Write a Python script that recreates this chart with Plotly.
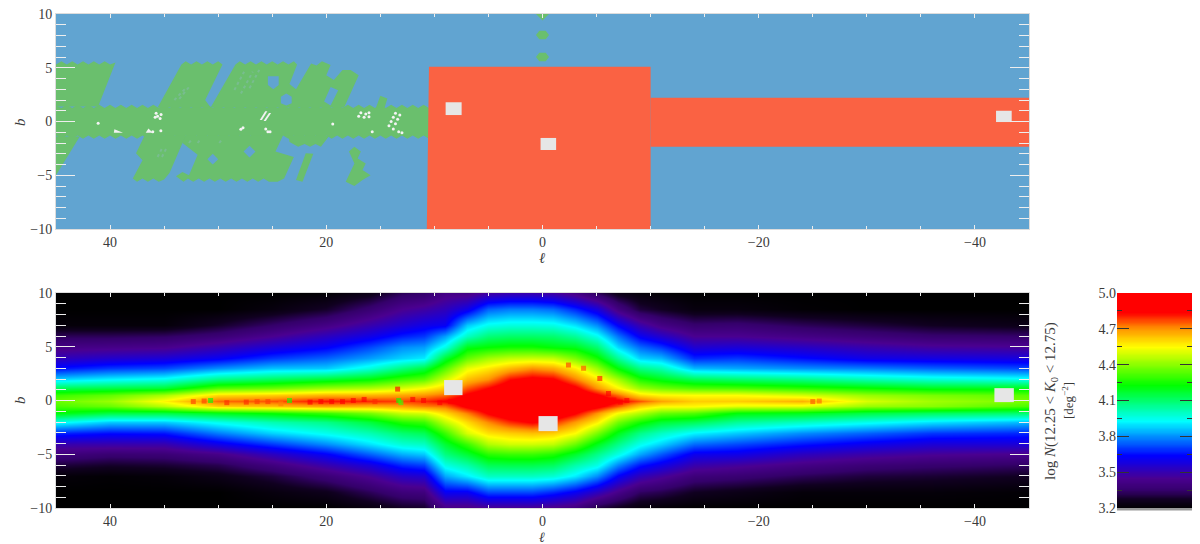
import numpy as np
import plotly.graph_objects as go

W, H = 1192, 536   # page body has an 8 px margin; figure fills the remaining window


def X(px):
    return (px - 8) / W


def Y(px):
    return 1 - (px - 8) / H


BLUE, GREEN, RED, GREY = "#61a4d1", "#6abf6d", "#fa6243", "#e6e6e6"
FONT = "Liberation Serif"
TXT = "#3a3a3a"

# ---------- survey coverage outlines (l, b in degrees) ----------
band_l = [45,44.5,44,43.5,43,42.5,42,41.5,41,40.5,40,39.5,39,38.5,38,37.5,37,36.5,36,35.5,35,34.5,34,33.5,33,32.5,32,31.5,31,30.5,30,29.5,29,28.5,28,27.5,27,26.5,26,25.5,25,24.5,24,23.5,23,22.5,22,21.5,21,20.5,20,19.5,19,18.5,18,17.5,17,16.5,16,15.5,15,14.5,14,13.5,13,12.5,12,11.5,11,10.5]
band_top = [1.5,1.25,1.55,1.25,1.55,1.25,1.55,1.25,1.55,1.25,1.55,1.25,1.55,1.25,1.55,1.25,1.55,1.25,1.55,1.25,1.55,1.25,1.55,1.25,1.55,1.25,1.55,1.25,1.55,1.25,1.55,1.25,1.55,1.25,1.55,1.25,1.55,1.25,1.55,1.25,1.55,1.25,1.55,1.25,1.55,1.25,1.55,1.25,1.55,1.25,1.55,1.25,1.55,1.25,1.55,1.25,1.55,1.25,1.55,1.25,1.55,1.25,1.55,1.25,1.55,1.25,1.55,1.25,1.55,1.25]
band_bot = [-1.3,-1.6,-1.3,-1.6,-1.3,-1.6,-1.3,-1.6,-1.3,-1.6,-1.3,-1.6,-1.3,-1.6,-1.3,-1.6,-1.3,-1.6,-1.3,-1.6,-1.3,-1.6,-1.3,-1.6,-1.3,-1.6,-1.3,-1.6,-1.3,-1.6,-1.3,-1.6,-1.3,-1.6,-1.3,-1.6,-1.3,-1.6,-1.3,-1.6,-1.3,-1.6,-1.3,-1.6,-1.3,-1.6,-1.3,-1.6,-1.3,-1.6,-1.3,-1.6,-1.3,-1.6,-1.3,-1.6,-1.3,-1.6,-1.3,-1.6,-1.3,-1.6,-1.3,-1.6,-1.3,-1.6,-1.3,-1.6,-1.3,-1.6]

green_polys = [
    [(45,5.3),(44.5,5.6),(44,5.3),(43.5,5.6),(43,5.3),(42.5,5.6),(42,5.3),(41.5,5.6),(41,5.3),(40.5,5.6),(40,5.3),(39.5,5.5),(41.1,1.4),(45,1.4)],
    [(45,-1.4),(42.8,-1.4),(45,-5.0)],
    [(35.6,1.3),(33.4,5.3),(33,5.6),(32.5,5.3),(32,5.6),(31.5,5.3),(31,5.6),(30.5,5.3),(30,5.6),(29.6,5.3),(31.2,2.0),(30.7,1.3)],
    [(30.7,1.3),(28.4,5.3),(28,5.6),(27.5,5.3),(27,5.6),(26.5,5.3),(26,5.6),(25.5,5.3),(25,5.6),(24.5,5.3),(24,5.6),(23.5,5.3),(23,5.6),(22.7,5.3),(23.4,3.5),(22.8,3.0),(21.4,5.4),(20.9,5.2),(20.4,5.6),(19.6,5.25),(20,4.3),(19.3,3.85),(18.5,4.8),(17.75,4.8),(17,4.3),(18.35,1.3)],
    [(15.4,1.3),(15,2.4),(14.35,2.15),(14.6,1.3)],
    [(36.8,-1.3),(37.6,-2.96),(37,-3.6),(37.9,-5.3),(37.5,-5.6),(37,-5.3),(36.5,-5.6),(36,-5.3),(35.5,-5.6),(35,-5.4),(34.5,-4.8),(33.3,-2.0),(32.9,-1.3)],
    [(33.3,-2.0),(32.7,-2.5),(31.9,-3.1),(32.7,-5.0),(33.3,-4.7),(33.9,-5.1),(33.2,-5.6),(32.8,-5.3),(32.3,-5.6),(31.8,-5.3),(31.3,-5.6),(30.8,-5.3),(30.3,-5.6),(29.8,-5.3),(29.3,-5.6),(28.8,-5.3),(28.3,-5.6),(27.8,-5.3),(27.3,-5.6),(26.8,-5.3),(26.3,-5.6),(25.8,-5.3),(25.3,-5.6),(24.5,-5.6),(23.9,-5.3),(23,-3.3),(23.9,-3.0),(24.7,-2.8),(24,-1.3),(33,-1.3)],
    [(23.5,-1.3),(23.4,-1.9),(22.6,-2.35),(22,-2.1),(21.5,-2.35),(21,-2.1),(20.5,-2.35),(19.7,-1.3)],
    [(21.9,-2.96),(21.2,-3.0),(22.2,-5.6),(22.8,-5.45)],
    [(17.4,-2.35),(16.8,-2.8),(17.1,-3.45),(16.35,-3.9),(16.65,-4.5),(15.9,-5.0),(16.65,-5.45),(17.4,-6.0),(18.2,-5.6),(17.4,-3.9),(17.9,-2.8)],
    [(0.6,10),(0,10.6),(-0.6,10),(0,9.4)],
    [(0.6,8.05),(0.3,8.45),(-0.3,8.45),(-0.6,8.05),(-0.3,7.65),(0.3,7.65)],
    [(0.6,6),(0.3,6.4),(-0.3,6.4),(-0.6,6),(-0.3,5.6),(0.3,5.6)],
]
blue_holes = [
    [(25.4,4.2),(24.4,4.2),(24.4,3.4),(24.9,3.0),(25.4,3.4)],
    [(24.2,2.3),(23.7,2.6),(23.2,2.3),(23.2,1.7),(23.7,1.5),(24.2,1.7)],
    [(19.6,3.2),(18.9,2.9),(19.6,1.5),(20.2,1.85)],
    [(27.65,-2.8),(27.1,-2.25),(26.55,-2.8),(27.1,-3.35)],
    [(31,-3.5),(30.5,-3.0),(30,-3.5),(30.5,-4.0)],
]
faint_l0 = [28.5,27.9,27.1,34.05,33.6,35.6,35.2,32.7,31.9,29.9]
faint_b0 = [2.93,2.6,3.1,2.0,2.1,-3.3,-3.3,-2.0,-2.0,-2.0]
faint_l1 = [27.6,26.8,26.2,33.0,32.7,35.2,34.8,32.4,31.6,29.6]
faint_b1 = [4.63,4.63,4.8,3.1,3.2,-2.5,-2.5,-1.6,-1.6,-1.6]
red_main = [(10.5,5.1),(-10,5.1),(-10,-10),(10.7,-10)]
red_strip = [(-10,2.2),(-45,2.2),(-45,-2.35),(-10,-2.35)]

white_l = [35.74,35.28,35.83,35.37,35.6,16.8,16.35,16.05,17,16.5,16.05,13.6,13.2,13.8,13.4,14,13.6,14.2,13.8,13.3,13,41.1,19.4,36.05,35.3,27.9,27.7,25.6,25.2,25.4,15.75]
white_b = [0.76,0.66,0.39,0.29,0.5,0.82,0.7,0.82,0.5,0.39,0.45,0.76,0.6,0.39,0.2,0,-0.2,-0.4,-0.7,-0.95,-1.05,-0.17,-0.23,-0.95,-0.85,-0.73,-0.58,-0.7,-0.95,-0.95,-0.95]
white_polys = [
    [(39.6,-0.73),(38.8,-1.04),(39.65,-1.04)],
    [(36.45,-0.64),(36.05,-1.04),(36.7,-1.04)],
    [(25.65,0.95),(25.45,0.95),(25.95,0.15),(26.15,0.15)],
    [(25.3,0.8),(25.1,0.8),(25.6,0.05),(25.8,0.05)],
]
gap_top = [[(8.96,1.79),(7.48,1.79),(7.48,0.6),(8.96,0.6)],
           [(0.18,-1.53),(-1.26,-1.53),(-1.26,-2.65),(0.18,-2.65)],
           [(-41.95,1.0),(-43.4,1.0),(-43.4,-0.05),(-41.95,-0.05)]]
gap_bot = [[(9.1,1.9),(7.4,1.9),(7.4,0.5),(9.1,0.5)],
           [(0.37,-1.45),(-1.4,-1.45),(-1.4,-2.85),(0.37,-2.85)],
           [(-41.8,1.15),(-43.6,1.15),(-43.6,-0.15),(-41.8,-0.15)]]

# ---------- star density map: columns by l, rows by b ----------
map_b = [10,8.5,7,6,5,4,3,2,1.2,0.5,0,-0.5,-1.2,-2,-3,-4,-5,-6,-7,-8.5,-10]
map_l = [45,40,35,30,25,20,16,13,11,9,7,5,3,1,-1,-3,-5,-7,-9,-11,-14,-18,-24,-30,-36,-45]
density_columns = [
 [3.2,3.2,3.22,3.33,3.42,3.52,3.65,3.88,4.13,4.3,4.36,4.32,4.22,3.95,3.68,3.5,3.4,3.3,3.22,3.2,3.2],
 [3.2,3.2,3.22,3.33,3.43,3.55,3.7,3.92,4.15,4.35,4.42,4.36,4.15,3.87,3.65,3.5,3.37,3.28,3.21,3.2,3.2],
 [3.2,3.2,3.22,3.34,3.44,3.57,3.72,3.95,4.17,4.44,4.56,4.46,4.15,3.87,3.66,3.5,3.38,3.29,3.22,3.2,3.2],
 [3.2,3.2,3.28,3.38,3.5,3.62,3.8,4.07,4.33,4.6,4.74,4.62,4.2,3.95,3.78,3.6,3.43,3.32,3.25,3.2,3.2],
 [3.2,3.23,3.35,3.45,3.57,3.7,3.86,4.12,4.36,4.62,4.76,4.64,4.24,4.02,3.88,3.7,3.53,3.4,3.3,3.23,3.2],
 [3.21,3.28,3.42,3.53,3.63,3.75,3.87,4.17,4.42,4.66,4.82,4.68,4.3,4.07,3.95,3.8,3.63,3.5,3.38,3.26,3.2],
 [3.25,3.37,3.5,3.6,3.72,3.82,3.97,4.22,4.45,4.66,4.8,4.66,4.38,4.16,4.02,3.9,3.75,3.58,3.46,3.33,3.23],
 [3.33,3.45,3.56,3.67,3.8,3.88,4.08,4.3,4.5,4.68,4.78,4.68,4.48,4.27,4.1,3.98,3.84,3.68,3.54,3.39,3.27],
 [3.35,3.48,3.6,3.7,3.82,3.91,4.15,4.34,4.55,4.7,4.8,4.72,4.5,4.3,4.13,4.0,3.87,3.71,3.56,3.4,3.28],
 [3.42,3.52,3.62,3.82,3.96,4.17,4.33,4.49,4.62,4.74,4.85,4.74,4.6,4.47,4.3,4.17,4.08,3.96,3.83,3.62,3.42],
 [3.42,3.6,3.87,4.0,4.2,4.35,4.52,4.64,4.76,4.86,4.92,4.87,4.72,4.6,4.5,4.3,4.17,4.03,3.91,3.62,3.42],
 [3.48,3.75,3.95,4.09,4.23,4.43,4.58,4.7,4.84,4.92,4.98,4.94,4.85,4.71,4.59,4.45,4.28,4.13,4.0,3.72,3.45],
 [3.5,3.78,3.97,4.11,4.25,4.47,4.65,4.83,4.93,5.0,5.0,5.0,4.94,4.8,4.62,4.49,4.3,4.14,4.0,3.72,3.45],
 [3.5,3.78,3.97,4.11,4.25,4.48,4.7,4.87,4.97,5.0,5.0,5.0,4.97,4.85,4.64,4.49,4.3,4.14,4.0,3.72,3.45],
 [3.48,3.76,3.96,4.1,4.22,4.47,4.67,4.85,4.97,5.0,5.0,5.0,4.95,4.8,4.62,4.47,4.27,4.12,3.98,3.68,3.43],
 [3.42,3.68,3.9,4.05,4.2,4.38,4.57,4.72,4.87,4.96,5.0,4.96,4.85,4.69,4.55,4.36,4.18,4.03,3.91,3.62,3.4],
 [3.33,3.58,3.8,3.95,4.1,4.25,4.42,4.58,4.7,4.86,4.94,4.88,4.7,4.57,4.38,4.2,4.07,3.96,3.8,3.53,3.3],
 [3.25,3.41,3.63,3.77,3.89,4.05,4.22,4.43,4.56,4.74,4.86,4.76,4.54,4.37,4.2,4.07,3.96,3.79,3.63,3.43,3.26],
 [3.22,3.3,3.5,3.62,3.76,3.88,4.07,4.26,4.42,4.6,4.76,4.62,4.45,4.25,4.07,3.95,3.83,3.66,3.52,3.34,3.22],
 [3.21,3.27,3.42,3.55,3.7,3.85,4.02,4.2,4.37,4.56,4.68,4.56,4.36,4.17,4.0,3.88,3.74,3.6,3.47,3.32,3.21],
 [3.2,3.23,3.36,3.45,3.56,3.68,3.85,4.13,4.33,4.55,4.62,4.56,4.33,4.13,3.92,3.76,3.61,3.5,3.39,3.27,3.2],
 [3.2,3.23,3.37,3.45,3.57,3.7,3.83,4.1,4.32,4.55,4.62,4.52,4.22,4.05,3.87,3.72,3.6,3.47,3.37,3.25,3.2],
 [3.2,3.21,3.33,3.42,3.54,3.65,3.8,4.07,4.28,4.5,4.66,4.52,4.2,4.0,3.8,3.66,3.53,3.42,3.33,3.22,3.2],
 [3.2,3.2,3.3,3.39,3.5,3.6,3.78,4.02,4.24,4.42,4.5,4.42,4.15,3.95,3.75,3.61,3.49,3.38,3.3,3.22,3.2],
 [3.2,3.2,3.27,3.36,3.47,3.59,3.75,3.98,4.2,4.38,4.43,4.4,4.12,3.9,3.7,3.57,3.46,3.36,3.29,3.22,3.2],
 [3.2,3.2,3.25,3.35,3.46,3.58,3.72,3.95,4.2,4.34,4.38,4.32,4.1,3.85,3.68,3.57,3.44,3.34,3.27,3.21,3.2],
]
# bright and dark clumps along the plane (l, b, log N)
clump_l = [32.3,31.3,30.7,29.2,27.4,26.4,25.4,24.2,23.4,21.5,20.5,19.5,18.5,17.5,16.5,15.5,13.4,13.3,13.1,12,11,9.5,8.5,7.5,-5.6,-6.1,-6.6,-7.2,-7.8,-5.3,-3.8,-2.4,-25,-25.6]
clump_b = [-0.1,-0.05,0,-0.2,-0.15,-0.1,-0.1,-0.3,0,-0.15,-0.1,-0.1,-0.1,0,0.1,-0.1,1.06,0,-0.2,0.1,0,-0.2,-0.1,0.05,-0.1,0.65,0.05,-0.15,0,2.05,3.0,3.3,-0.1,-0.05]
clump_v = [4.78,4.78,4.22,4.8,4.8,4.78,4.78,4.72,4.25,4.84,4.84,4.86,4.86,4.86,4.84,4.8,4.88,4.25,4.3,4.84,4.84,4.84,4.84,4.86,4.98,5.0,4.98,4.95,4.92,4.82,4.76,4.78,4.76,4.74]

colorbar_levels = [round(3.2 + 0.02 * i, 2) for i in range(91)]
cbar_ticks = [3.2, 3.5, 3.8, 4.1, 4.4, 4.7, 5.0]
b_ticks = [-10, -5, 0, 5, 10]
l_ticks = [40, 20, 0, -20, -40]

colorscale = [
    [0.0, "#000000"], [0.039, "#100020"], [0.083, "#34006a"], [0.139, "#4a0090"], [0.244, "#0000ff"],
    [0.333, "#008cff"], [0.406, "#00ffff"], [0.572, "#00ff00"], [0.75, "#ffff00"],
    [0.833, "#ff9600"], [0.911, "#ff0000"], [1.0, "#ff0000"],
]

fig = go.Figure()


def poly(points, color, xa, ya):
    fig.add_trace(go.Scatter(
        x=[p[0] for p in points] + [points[0][0]],
        y=[p[1] for p in points] + [points[0][1]],
        mode="lines", fill="toself", fillcolor=color,
        line=dict(width=0, color=color), xaxis=xa, yaxis=ya,
        hoverinfo="skip", showlegend=False))


# top panel
poly(list(zip(band_l, band_top)) + list(zip(band_l[::-1], band_bot[::-1])), GREEN, "x", "y")
for p in green_polys:
    poly(p, GREEN, "x", "y")
for p in blue_holes:
    poly(p, BLUE, "x", "y")
for a, c, d, e in zip(faint_l0, faint_b0, faint_l1, faint_b1):
    fig.add_trace(go.Scatter(x=[a, d], y=[c, e], mode="lines", xaxis="x", yaxis="y",
                             line=dict(color="#78bd8f", width=2, dash="dot"),
                             hoverinfo="skip", showlegend=False))
for p in white_polys:
    poly(p, "#f2f2f2", "x", "y")
fig.add_trace(go.Scatter(x=white_l, y=white_b, mode="markers",
                         marker=dict(color="#f4f4f4", size=3), xaxis="x", yaxis="y",
                         hoverinfo="skip", showlegend=False))
poly(red_main, RED, "x", "y")
poly(red_strip, RED, "x", "y")
for p in gap_top:
    poly(p, GREY, "x", "y")

# bottom panel
density = np.array(density_columns).T
fig.add_trace(go.Heatmap(x=map_l, y=map_b, z=density, zmin=3.2, zmax=5.0, zsmooth="best",
                         colorscale=colorscale, showscale=False, xaxis="x2", yaxis="y2"))
fig.add_trace(go.Scatter(x=clump_l, y=clump_b, mode="markers", xaxis="x2", yaxis="y2",
                         marker=dict(color=clump_v, cmin=3.2, cmax=5.0, colorscale=colorscale,
                                     size=5, symbol="square", opacity=0.65, line=dict(width=0)),
                         hoverinfo="skip", showlegend=False))
for p in gap_bot:
    poly(p, GREY, "x2", "y2")

# colour bar panel
fig.add_trace(go.Heatmap(x=[0, 1], y=colorbar_levels, z=[[v, v] for v in colorbar_levels],
                         zmin=3.2, zmax=5.0, zsmooth="best", colorscale=colorscale,
                         showscale=False, xaxis="x3", yaxis="y3"))

tick_font = dict(family=FONT, size=14, color=TXT)


def xaxis(domain, anchor):
    return dict(domain=domain, anchor=anchor, range=[45, -45], tickmode="array", automargin=False,
                tickvals=l_ticks, ticktext=[("\u2212" if v < 0 else "") + str(abs(v)) for v in l_ticks],
                ticks="inside", ticklen=4, tickcolor="#eeeeee", tickwidth=1,
                minor=dict(dtick=5, tick0=0, ticks="inside", ticklen=3, tickcolor="#eeeeee", tickwidth=1),
                showgrid=False, zeroline=False, showline=True, linecolor="#dcdcdc", linewidth=1,
                mirror="ticks", tickfont=tick_font, ticklabeloverflow="allow")


def yaxis(domain, anchor):
    return dict(domain=domain, anchor=anchor, range=[-10, 10], tickmode="array", automargin=False,
                tickvals=b_ticks, ticktext=[("\u2212" if v < 0 else "") + str(abs(v)) for v in b_ticks],
                ticks="inside", ticklen=19, tickcolor="#eeeeee", tickwidth=1,
                minor=dict(dtick=1, tick0=0, ticks="inside", ticklen=10, tickcolor="#eeeeee", tickwidth=1),
                showgrid=False, zeroline=False, showline=True, linecolor="#dcdcdc", linewidth=1,
                mirror="ticks", tickfont=tick_font, ticklabeloverflow="allow")


def label(text, px, py, size=15, angle=0):
    return dict(text=text, xref="paper", yref="paper", x=X(px), y=Y(py), xanchor="center",
                yanchor="middle", textangle=angle, showarrow=False,
                font=dict(family=FONT, size=size, color=TXT))


fig.update_layout(
    width=W, height=H, margin=dict(l=0, r=0, t=0, b=0), autosize=False,
    paper_bgcolor="white", plot_bgcolor=BLUE, showlegend=False,
    xaxis=xaxis([X(56), X(1029)], "y"),
    yaxis=yaxis([Y(229), Y(14)], "x"),
    xaxis2=xaxis([X(56), X(1029)], "y2"),
    yaxis2=yaxis([Y(508), Y(293)], "x2"),
    xaxis3=dict(domain=[X(1117), X(1192)], anchor="y3", range=[0, 1], showticklabels=False, automargin=False,
                ticks="", showgrid=False, zeroline=False, showline=False),
    yaxis3=dict(domain=[Y(508), Y(293)], anchor="x3", range=[3.2, 5.0], tickmode="array", automargin=False,
                tickvals=cbar_ticks, ticktext=[f"{v:.1f}" for v in cbar_ticks],
                ticks="inside", ticklen=12, tickcolor="#333333", tickwidth=1,
                minor=dict(dtick=0.3, tick0=3.35, ticks="inside", ticklen=5, tickcolor="#333333", tickwidth=1),
                showgrid=False, zeroline=False, showline=False, mirror="ticks", tickfont=tick_font,
                ticklabeloverflow="allow"),
    annotations=[
        label("<i>\u2113</i>", 542, 258), label("<i>\u2113</i>", 542, 537, size=14),
        label("<i>b</i>", 20, 122, angle=-90), label("<i>b</i>", 20, 400, angle=-90),
        label("log <i>N</i>(12.25 &lt; <i>K</i><sub>0</sub> &lt; 12.75)", 1051, 401, size=15, angle=-90),
        label("[deg<sup>\u22122</sup>]", 1068, 401, size=13, angle=-90),
    ],
    shapes=[dict(type="rect", xref="x3", yref="y3 domain", x0=0, x1=1, y0=-0.012, y1=0,
                 fillcolor="#9a9a9a", line=dict(width=0))],
)
fig.write_html("out.html")
